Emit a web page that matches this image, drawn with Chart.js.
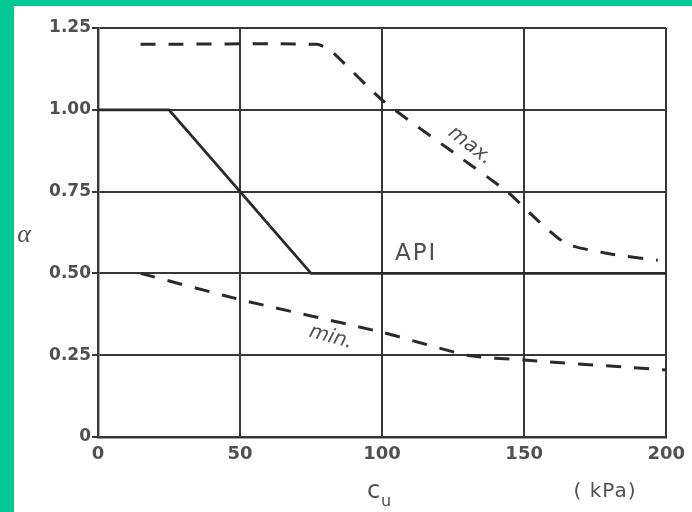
<!DOCTYPE html>
<html>
<head>
<meta charset="utf-8">
<script src="https://cdn.jsdelivr.net/npm/chart.js@4.4.0/dist/chart.umd.min.js"></script>
<style>
  html, body { margin: 0; padding: 0; background: #03c896; width: 692px; height: 512px; overflow: hidden; }
  #quadro { position: absolute; left: 14px; top: 6px; width: 678px; height: 506px; background: #fff; }
</style>
</head>
<body>
<div id="quadro"><canvas id="grafico" width="678" height="506"></canvas></div>
<script>
// Dados (cu em kPa, alfa adimensional)
const cuApi = [0, 25, 75, 200];
const alfaApi = [1.0, 1.0, 0.5, 0.5];

const cuMax = [15, 77, 82, 100, 125, 144, 155, 165, 180, 197];
const alfaMax = [1.2, 1.2, 1.18, 1.03, 0.87, 0.75, 0.66, 0.59, 0.56, 0.54];

const cuMin = [15, 50, 100, 130, 150, 200];
const alfaMin = [0.5, 0.42, 0.32, 0.25, 0.235, 0.205];

const ticksX = [0, 50, 100, 150, 200];
const ticksY = [0, 0.25, 0.5, 0.75, 1.0, 1.25];

const corLinha = '#2a2a2a';
const corGrade = '#383838';
const corTexto = '#505050';
const fonte = '"DejaVu Sans", Verdana, sans-serif';

function pontos(xs, ys) {
  return xs.map((x, i) => ({ x: x, y: ys[i] }));
}

// Textos do gráfico (rótulos das curvas e dos eixos)
const rotulos = {
  id: 'rotulos',
  afterDraw(chart) {
    const ctx = chart.ctx;
    const sx = chart.scales.x;
    const sy = chart.scales.y;
    ctx.save();
    ctx.fillStyle = corTexto;
    ctx.textBaseline = 'middle';

    // alfa
    ctx.font = 'italic 26px "Liberation Serif", serif';
    ctx.textAlign = 'center';
    ctx.fillText('α', 10, 229);

    // c_u
    ctx.font = '24px ' + fonte;
    ctx.textAlign = 'left';
    ctx.fillText('c', 353, 486);
    ctx.font = '16px ' + fonte;
    ctx.fillText('u', 367, 496);

    // (kPa)
    ctx.font = '20px ' + fonte;
    ctx.textAlign = 'center';
    ctx.letterSpacing = '1px';
    ctx.fillText('( kPa)', 591, 486);

    // API
    ctx.font = '23px ' + fonte;
    ctx.textAlign = 'left';
    ctx.letterSpacing = '2px';
    ctx.fillText('API', sx.getPixelForValue(104.5), sy.getPixelForValue(0.56));
    ctx.letterSpacing = '0px';

    // max.
    ctx.font = 'italic 20px ' + fonte;
    ctx.textAlign = 'center';
    ctx.save();
    ctx.translate(sx.getPixelForValue(131), sy.getPixelForValue(0.89));
    ctx.rotate(38 * Math.PI / 180);
    ctx.fillText('max.', 0, 0);
    ctx.restore();

    // min.
    ctx.save();
    ctx.translate(sx.getPixelForValue(82), sy.getPixelForValue(0.305));
    ctx.rotate(16 * Math.PI / 180);
    ctx.fillText('min.', 0, 0);
    ctx.restore();

    ctx.restore();
  }
};

const ctx = document.getElementById('grafico').getContext('2d');
new Chart(ctx, {
  type: 'scatter',
  data: {
    datasets: [
      {
        data: pontos(cuApi, alfaApi),
        showLine: true,
        borderColor: corLinha,
        borderWidth: 2.8,
        pointRadius: 0
      },
      {
        data: pontos(cuMax, alfaMax),
        showLine: true,
        borderColor: corLinha,
        borderWidth: 3,
        borderDash: [15, 13],
        pointRadius: 0,
        tension: 0.2
      },
      {
        data: pontos(cuMin, alfaMin),
        showLine: true,
        borderColor: corLinha,
        borderWidth: 3,
        borderDash: [15, 13],
        pointRadius: 0,
        tension: 0.2
      }
    ]
  },
  options: {
    responsive: false,
    animation: false,
    layout: { padding: { top: 22, right: 22, left: 0, bottom: 0 } },
    plugins: {
      legend: { display: false },
      tooltip: { enabled: false }
    },
    scales: {
      x: {
        type: 'linear',
        min: 0,
        max: 200,
        afterBuildTicks: s => { s.ticks = ticksX.map(v => ({ value: v })); },
        afterFit: s => { s.height = 75; },
        grid: { color: corGrade, lineWidth: 2, drawTicks: false },
        border: { color: corGrade, width: 2.4 },
        ticks: {
          color: corTexto,
          padding: 7,
          maxRotation: 0,
          font: { family: fonte, size: 18, weight: 'bold' }
        }
      },
      y: {
        min: 0,
        max: 1.25,
        afterBuildTicks: s => { s.ticks = ticksY.map(v => ({ value: v })); },
        afterFit: s => { s.width = 84; },
        grid: { color: corGrade, lineWidth: 2, tickLength: 6 },
        border: { color: corGrade, width: 2.4 },
        ticks: {
          color: corTexto,
          padding: 1,
          font: { family: fonte, size: 17, weight: 'bold' },
          callback: v => v === 0 ? '0' : v.toFixed(2)
        }
      }
    }
  },
  plugins: [rotulos]
});
</script>
</body>
</html>
